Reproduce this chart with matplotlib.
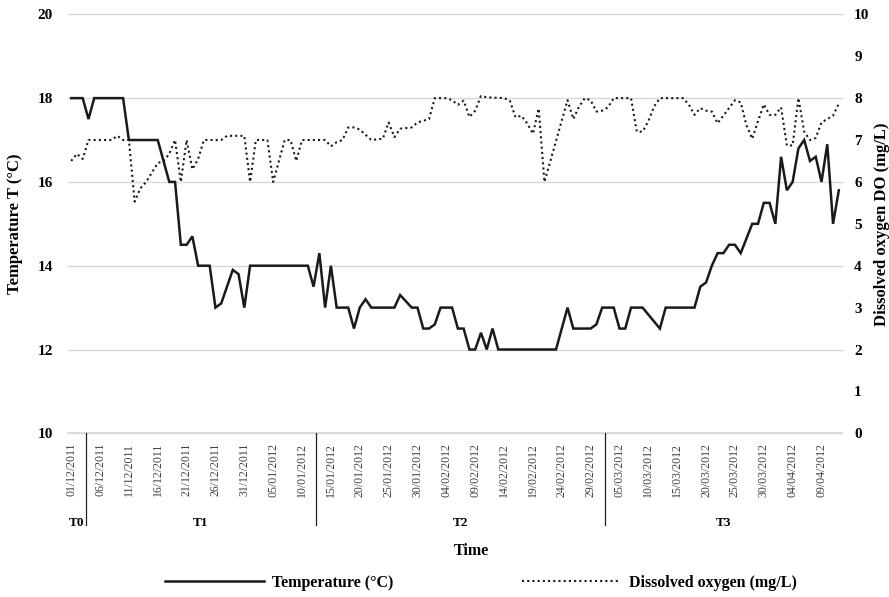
import matplotlib
matplotlib.use("Agg")
import matplotlib.pyplot as plt
import pandas as pd

plt.rcParams['font.family'] = ['Liberation Serif', 'DejaVu Serif']

# daily categories 01/12/2011 .. 12/04/2012
dates = pd.date_range('2011-12-01', '2012-04-12', freq='D')

# temperature readings (day index from 01/12/2011, °C)
temp_day = [0, 2, 3, 4, 9, 10, 15, 17, 18, 19, 20, 21, 22, 24, 25, 26, 28, 29, 30, 31,
            41, 42, 43, 44, 45, 46, 48, 49, 50, 51, 52, 56, 57, 59, 60, 61, 62, 63, 64, 66,
            67, 68, 69, 70, 71, 72, 73, 74, 84, 86, 87, 90, 91, 92, 94, 95, 96, 97, 99, 102,
            103, 108, 109, 110, 111, 112, 113, 114, 115, 116, 118, 119, 120, 121, 122, 123,
            124, 125, 126, 127, 128, 129, 130, 131, 132, 133]
temp_val = [18, 18, 17.5, 18, 18, 17, 17, 16, 16, 14.5, 14.5, 14.7, 14, 14, 13, 13.1, 13.9, 13.8, 13, 14,
            14, 13.5, 14.3, 13, 14, 13, 13, 12.5, 13, 13.2, 13, 13, 13.3, 13, 13, 12.5, 12.5, 12.6, 13, 13,
            12.5, 12.5, 12, 12, 12.4, 12, 12.5, 12, 12, 13, 12.5, 12.5, 12.6, 13, 13, 12.5, 12.5, 13, 13, 12.5,
            13, 13, 13.5, 13.6, 14, 14.3, 14.3, 14.5, 14.5, 14.3, 15, 15, 15.5, 15.5, 15, 16.6,
            15.8, 16, 16.8, 17, 16.5, 16.6, 16, 16.9, 15, 15.8]

# dissolved oxygen readings (mg/L)
do_day = [0, 1, 2, 3, 7, 8, 9, 10, 11, 12, 13, 15, 16, 17, 18, 19, 20, 21, 22, 23,
          26, 27, 30, 31, 32, 34, 35, 37, 38, 39, 40, 44, 45, 46, 47, 48, 49, 50, 52, 54,
          55, 56, 57, 59, 60, 62, 63, 65, 66, 67, 68, 69, 70, 71, 72, 75, 76, 77, 78, 79,
          80, 81, 82, 86, 87, 88, 89, 90, 91, 92, 93, 94, 97, 98, 99, 100, 101, 102, 106, 107,
          108, 109, 110, 111, 112, 115, 116, 117, 118, 119, 120, 121, 122, 123, 124, 125, 126, 127, 128, 129,
          130, 131, 132, 133]
do_val = [6.5, 6.67, 6.55, 7.0, 7.0, 7.1, 7.0, 7.0, 5.53, 5.85, 6.0, 6.45, 6.5, 6.67, 7.0, 6.0, 7.0, 6.3, 6.55, 7.0,
          7.0, 7.1, 7.1, 6.0, 7.0, 7.0, 6.0, 7.0, 7.0, 6.5, 7.0, 7.0, 6.85, 6.95, 7.0, 7.3, 7.3, 7.25, 7.0, 7.03,
          7.42, 7.07, 7.27, 7.3, 7.42, 7.5, 8.0, 8.0, 7.95, 7.84, 7.94, 7.55, 7.7, 8.05, 8.02, 8.0, 7.94, 7.54, 7.58, 7.4,
          7.15, 7.75, 6.0, 7.95, 7.5, 7.8, 8.0, 7.95, 7.68, 7.7, 7.78, 8.0, 8.0, 7.2, 7.2, 7.45, 7.8, 8.0, 8.0, 7.85,
          7.6, 7.76, 7.7, 7.68, 7.4, 7.95, 7.9, 7.35, 7.03, 7.45, 7.85, 7.6, 7.6, 7.78, 6.87, 6.87, 8.0, 7.2, 7.0, 7.05,
          7.42, 7.5, 7.58, 7.87]

# sampling periods: name, first day, last day
groups = ['T0', 'T1', 'T2', 'T3']
group_start = [0, 3, 43, 93]
group_end = [2, 42, 92, 133]

fig = plt.figure(figsize=(8.89, 5.97), dpi=100)
ax = fig.add_axes([0.0768, 0.2742, 0.870, 0.7018])
ax2 = ax.twinx()

l1, = ax.plot(temp_day, temp_val, color='#1a1a1a', lw=1.8, solid_joinstyle='miter')
l2, = ax2.plot(do_day, do_val, color='#1a1a1a', lw=1.5, ls=(0, (1, 1.5)))

ax.set_xlim(-0.5, len(dates) - 0.5)
ax.set_ylim(10, 20)
ax2.set_ylim(0, 10)
ax.set_yticks(range(10, 21, 2))
ax2.set_yticks(range(0, 11, 1))
ax.grid(axis='y', color='#d9d9d9', lw=1)
for gl in ax.get_ygridlines():
    gl.set_clip_on(False)
ax.axhline(10, color='#d9d9d9', lw=1.2, clip_on=False, zorder=0.5)
ax.set_axisbelow(True)
for a in (ax, ax2):
    for s in a.spines.values():
        s.set_visible(False)

tick_pos = list(range(0, len(dates), 5))
ax.set_xticks(tick_pos)
ax.set_xticklabels([dates[i].strftime('%d/%m/%Y') for i in tick_pos],
                   rotation=90, fontsize=8.5, color='#404040')
ax.tick_params(axis='x', length=0, pad=7)
ax.tick_params(axis='y', length=0, pad=11, labelsize=11)
ax2.tick_params(axis='y', length=0, pad=9, labelsize=11)
for t in ax.get_yticklabels() + ax2.get_yticklabels():
    t.set_fontweight('bold')

# group separators and labels under the dates
tr = ax.get_xaxis_transform()
for name, a, b in zip(groups, group_start, group_end):
    ax.text((a + b) / 2, -0.214, name, transform=tr, ha='center', va='center',
            fontsize=9.5, fontweight='bold')
for b in group_end[:-1]:
    ax.plot([b + 0.5, b + 0.5], [0, -0.219], transform=tr, clip_on=False,
            color='#222222', lw=0.9)

ax.set_xlabel('Time', fontsize=11.5, fontweight='bold')
ax.xaxis.set_label_coords(0.521, -0.262)
ax.set_ylabel('Temperature T (°C)', fontsize=12, fontweight='bold')
ax.yaxis.set_label_coords(-0.058, 0.5)
ax2.set_ylabel('Dissolved oxygen DO (mg/L)', fontsize=12, fontweight='bold')
ax2.yaxis.set_label_coords(1.042, 0.5)

fig.legend(handles=[l1, l2], labels=['Temperature (°C)', 'Dissolved oxygen (mg/L)'],
           loc='center', bbox_to_anchor=(0.541, 0.0235), ncol=2, frameon=False,
           handlelength=6.2, columnspacing=8.0, handletextpad=0.5,
           prop={'size': 11.5, 'weight': 'bold'})

fig.savefig('out.png', dpi=100)
